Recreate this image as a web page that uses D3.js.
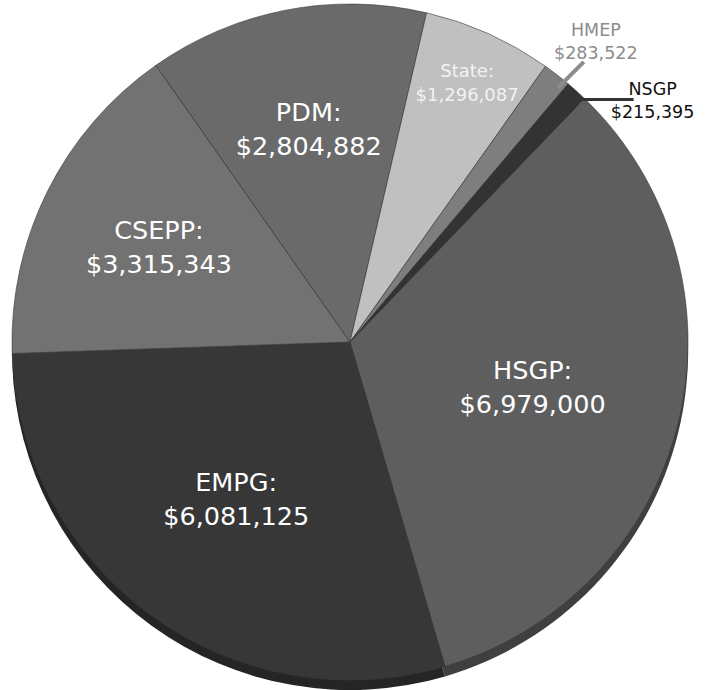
<!DOCTYPE html>
<html>
<head>
    <title>Grant funding pie</title>
    <script src="https://d3js.org/d3.v7.min.js"></script>
    <style>
        body { margin: 0; background: #fff; }
        text { font-family: "DejaVu Sans", sans-serif; }
    </style>
</head>
<body>
    <div id="pie-chart"></div>

    <script>
        // Programs, in the order they go clockwise round the pie
        var programs = ['HSGP', 'EMPG', 'CSEPP', 'PDM', 'State', 'HMEP', 'NSGP'];
        var amounts = [6979000, 6081125, 3315343, 2804882, 1296087, 283522, 215395];
        var sliceColors = ['#5e5e5e', '#373737', '#727272', '#6a6a6a', '#c0c0c0', '#7e7e7e', '#333333'];
        // the two thin slices get their labels outside, with a leader line
        var outsideLabels = ['HMEP', 'NSGP'];

        var width = 708, height = 690;
        var cx = 350, cy = 342, radius = 338;
        var rimDepth = 10;

        var data = programs.map(function(p, i) {
            return { name: p, value: amounts[i], color: sliceColors[i] };
        });

        var startDeg = 43.9;
        var pie = d3.pie()
            .sort(null)
            .value(function(d) { return d.value; })
            .startAngle(startDeg * Math.PI / 180)
            .endAngle(startDeg * Math.PI / 180 + 2 * Math.PI);

        var arcs = pie(data);

        var arc = d3.arc().innerRadius(0).outerRadius(radius);
        var fmt = d3.format('$,');

        var svg = d3.select('#pie-chart')
            .append('svg')
            .attr('width', width)
            .attr('height', height);

        // darker rim underneath, gives the slight 3d look at the bottom
        svg.append('g')
            .attr('transform', 'translate(' + cx + ',' + (cy + rimDepth) + ')')
            .selectAll('path')
            .data(arcs)
            .enter()
            .append('path')
            .attr('d', arc)
            .attr('fill', function(d) { return d3.color(d.data.color).darker(1.1); });

        var g = svg.append('g')
            .attr('transform', 'translate(' + cx + ',' + cy + ')');

        g.selectAll('path.slice')
            .data(arcs)
            .enter()
            .append('path')
            .attr('class', 'slice')
            .attr('d', arc)
            .attr('fill', function(d) { return d.data.color; })
            .attr('stroke', '#3a3a3a')
            .attr('stroke-width', 0.6);

        // labels inside the slices
        var insideArcs = arcs.filter(function(d) { return outsideLabels.indexOf(d.data.name) < 0; });

        function isSmall(d) { return (d.endAngle - d.startAngle) < 0.5; }

        function labelPos(d) {
            var deg = (d.endAngle - d.startAngle) * 180 / Math.PI;
            // bigger slices keep their label a bit nearer the middle
            var r = isSmall(d) ? radius * 0.845 : radius * (0.70 - 0.0012 * deg);
            return d3.arc().innerRadius(r).outerRadius(r).centroid(d);
        }

        var inside = g.selectAll('text.inside')
            .data(insideArcs)
            .enter()
            .append('text')
            .attr('class', 'inside')
            .attr('text-anchor', 'middle')
            .attr('fill', function(d) { return d.data.name === 'State' ? '#f2f2f2' : '#ffffff'; })
            .attr('font-size', function(d) { return isSmall(d) ? 18 : 25.5; })
            .attr('transform', function(d) {
                var p = labelPos(d);
                return 'translate(' + p[0] + ',' + p[1] + ')';
            });

        inside.append('tspan')
            .attr('x', 0)
            .attr('y', function(d) { return isSmall(d) ? -5 : -8; })
            .text(function(d) { return d.data.name + ':'; });

        inside.append('tspan')
            .attr('x', 0)
            .attr('y', function(d) { return isSmall(d) ? 19 : 26; })
            .text(function(d) { return fmt(d.data.value); });

        // outside labels with leader lines
        var outsideArcs = arcs.filter(function(d) { return outsideLabels.indexOf(d.data.name) >= 0; });
        var leaderColors = { HMEP: '#8c8c8c', NSGP: '#333333' };
        var textColors = { HMEP: '#8c8c8c', NSGP: '#111111' };

        outsideArcs.forEach(function(d) {
            var mid = (d.startAngle + d.endAngle) / 2;
            var r0 = radius * 0.97;
            var x0 = Math.sin(mid) * r0, y0 = -Math.cos(mid) * r0;
            var x1, y1, tx, ty;
            if (d.data.name === 'HMEP') {
                x0 += 7; y0 += 5;
                x1 = x0 + 26; y1 = y0 - 26;
                tx = x1 + 12; ty = y1 - 26;
            } else {
                x0 += 8; y0 += 1;
                x1 = x0 + 56; y1 = y0;
                tx = x1 + 19; ty = y1 - 5;
            }
            g.append('line')
                .attr('x1', x0).attr('y1', y0)
                .attr('x2', x1).attr('y2', y1)
                .attr('stroke', leaderColors[d.data.name])
                .attr('stroke-width', d.data.name === 'HMEP' ? 4 : 3);

            var t = g.append('text')
                .attr('text-anchor', 'middle')
                .attr('fill', textColors[d.data.name])
                .attr('font-size', 17.5)
                .attr('transform', 'translate(' + tx + ',' + ty + ')');
            t.append('tspan').attr('x', 0).attr('y', 0).text(d.data.name);
            t.append('tspan').attr('x', 0).attr('y', 23).text(fmt(d.data.value));
        });
    </script>
</body>
</html>
